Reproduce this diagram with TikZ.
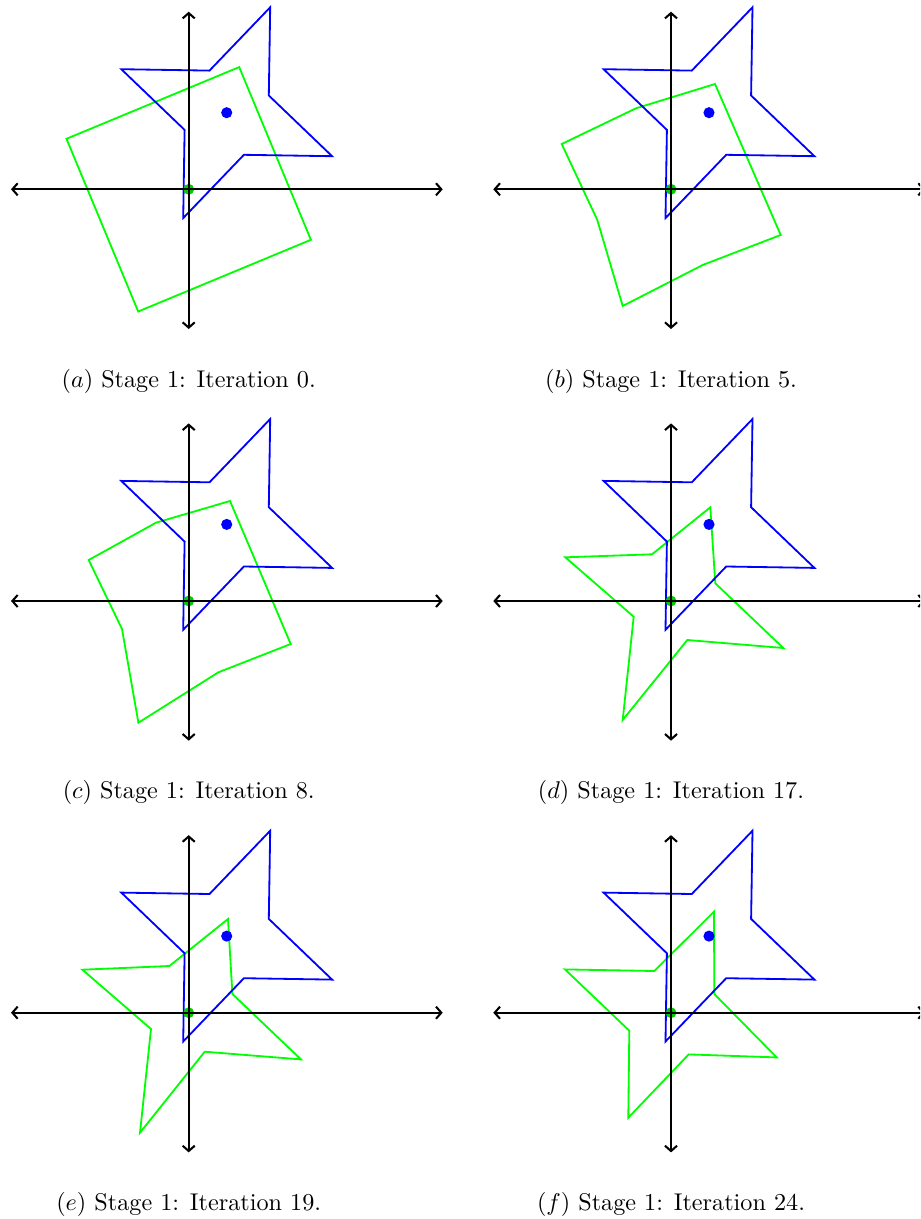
\documentclass[tikz,border=0pt]{standalone}
\usetikzlibrary{arrows.meta}
\tikzset{
  axisline/.style={line width=0.85pt, draw=black,
    {Straight Barb[length=2.2pt,width=5pt]}-{Straight Barb[length=2.2pt,width=5pt]}},
  bluestar/.style={draw=blue, line width=0.75pt},
  greenpoly/.style={draw=green, line width=0.75pt},
  bdot/.style={circle, fill=blue, inner sep=0pt, minimum size=4.6pt},
  gdot/.style={circle, fill=green!80!black, inner sep=0pt, minimum size=4.5pt},
  captext/.style={anchor=base, inner sep=0pt},
  bstar/.pic={\draw[bluestar] (81.5,182) -- (20.8,118.7) -- (-67.4,120.1) -- (-4.1,59.4) -- (-5.5,-28.8) -- (55.2,34.5) -- (143.4,33.1) -- (80.1,93.8) -- cycle;}
}
\begin{document}
\begin{tikzpicture}[x=0.4132pt,y=0.4132pt]
\clip (0,0) rectangle (920,-1219);
% (a)
\begin{scope}[shift={(188.7,-189.3)}]
  \draw[greenpoly] (50.5,122.2) -- (-35.85,86.35) -- (-122.2,50.5) -- (-86.35,-35.85) -- (-50.5,-122.2) -- (35.85,-86.35) -- (122.2,-50.5) -- (86.35,35.85) -- cycle;
  \pic{bstar};
  \node[bdot] (ba) at (38,76.6) {};
  \node[gdot] (ga) at (0,0) {};
  \coordinate (axlA) at (-177.7,0); \coordinate (axrA) at (254,0);
  \coordinate (axbA) at (0,-139.7); \coordinate (axtA) at (0,177.6);
  \draw[axisline] (axlA) -- (axrA);
  \draw[axisline] (axbA) -- (axtA);
  \node[captext] (ca) at (0,-197.7) {($a$) Stage 1: Iteration 0.};
\end{scope}
% (b)
\begin{scope}[shift={(671,-189.3)}]
  \draw[greenpoly] (44,105.3) -- (-35,81) -- (-109.3,45.3) -- (-73.7,-30.7) -- (-48.3,-116.7) -- (31.7,-75.7) -- (109.7,-45.7) -- (76.9,29.8) -- cycle;
  \pic{bstar};
  \node[bdot] (bb) at (38,76.6) {};
  \node[gdot] (gb) at (0,0) {};
  \coordinate (axlB) at (-177.7,0); \coordinate (axrB) at (254,0);
  \coordinate (axbB) at (0,-139.7); \coordinate (axtB) at (0,177.6);
  \draw[axisline] (axlB) -- (axrB);
  \draw[axisline] (axbB) -- (axtB);
  \node[captext] (cb) at (0,-197.7) {($b$) Stage 1: Iteration 5.};
\end{scope}
% (c)
\begin{scope}[shift={(188.7,-601)}]
  \draw[greenpoly] (41.3,100) -- (-32.7,78.3) -- (-100,41) -- (-66.7,-28) -- (-50.3,-121.7) -- (29.7,-71.3) -- (102,-43) -- (71.7,28.5) -- cycle;
  \pic{bstar};
  \node[bdot] (bc) at (38,76.6) {};
  \node[gdot] (gc) at (0,0) {};
  \coordinate (axlC) at (-177.7,0); \coordinate (axrC) at (254,0);
  \coordinate (axbC) at (0,-139.7); \coordinate (axtC) at (0,177.6);
  \draw[axisline] (axlC) -- (axrC);
  \draw[axisline] (axbC) -- (axtC);
  \node[captext] (cc) at (0,-197.7) {($c$) Stage 1: Iteration 8.};
\end{scope}
% (d)
\begin{scope}[shift={(671,-601)}]
  \draw[greenpoly] (39.3,93.7) -- (-19,46.7) -- (-105.7,43.7) -- (-37.3,-15.7) -- (-48.3,-119) -- (16.3,-39) -- (112.3,-47) -- (44.3,17.7) -- cycle;
  \pic{bstar};
  \node[bdot] (bd) at (38,76.6) {};
  \node[gdot] (gd) at (0,0) {};
  \coordinate (axlD) at (-177.7,0); \coordinate (axrD) at (254,0);
  \coordinate (axbD) at (0,-139.7); \coordinate (axtD) at (0,177.6);
  \draw[axisline] (axlD) -- (axrD);
  \draw[axisline] (axbD) -- (axtD);
  \node[captext] (cd) at (0,-197.7) {($d$) Stage 1: Iteration 17.};
\end{scope}
% (e)
\begin{scope}[shift={(188.7,-1012.7)}]
  \draw[greenpoly] (39.3,93.7) -- (-19.3,46.7) -- (-106.3,43) -- (-37.7,-16.3) -- (-48.7,-120) -- (16,-39) -- (112.3,-46.7) -- (43.7,18.7) -- cycle;
  \pic{bstar};
  \node[bdot] (be) at (38,76.6) {};
  \node[gdot] (ge) at (0,0) {};
  \coordinate (axlE) at (-177.7,0); \coordinate (axrE) at (254,0);
  \coordinate (axbE) at (0,-139.7); \coordinate (axtE) at (0,177.6);
  \draw[axisline] (axlE) -- (axrE);
  \draw[axisline] (axbE) -- (axtE);
  \node[captext] (ce) at (0,-197.7) {($e$) Stage 1: Iteration 19.};
\end{scope}
% (f)
\begin{scope}[shift={(671,-1012.7)}]
  \draw[greenpoly] (43,101) -- (-16.7,41.7) -- (-106,43.3) -- (-41.7,-18) -- (-42.7,-105) -- (17.7,-41.7) -- (105.7,-44.7) -- (43.3,18.7) -- cycle;
  \pic{bstar};
  \node[bdot] (bf) at (38,76.6) {};
  \node[gdot] (gf) at (0,0) {};
  \coordinate (axlF) at (-177.7,0); \coordinate (axrF) at (254,0);
  \coordinate (axbF) at (0,-139.7); \coordinate (axtF) at (0,177.6);
  \draw[axisline] (axlF) -- (axrF);
  \draw[axisline] (axbF) -- (axtF);
  \node[captext] (cf) at (0,-197.7) {($f$) Stage 1: Iteration 24.};
\end{scope}
\end{tikzpicture}
\end{document}
